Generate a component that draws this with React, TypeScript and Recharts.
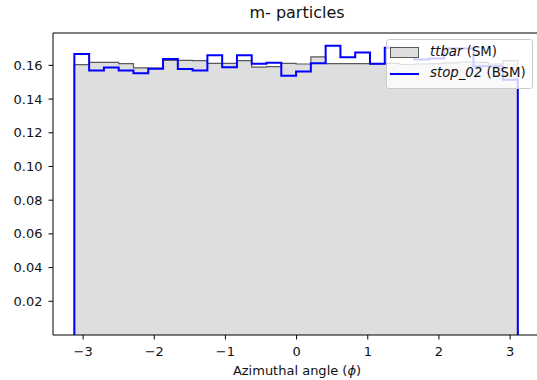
import {
  ComposedChart,
  Area,
  Line,
  XAxis,
  YAxis,
  ReferenceLine,
} from 'recharts';

// phi range of the histogram and the bin heights (30 bins)
const PHI_MIN = -3.123;
const PHI_MAX = 3.108;

const ttbarHeights = [
  0.1604, 0.1618, 0.1618, 0.161, 0.1585, 0.1583, 0.163, 0.163, 0.1628, 0.1612,
  0.1612, 0.1628, 0.159, 0.1592, 0.1612, 0.1608, 0.165, 0.161, 0.161, 0.161,
  0.1608, 0.1612, 0.1605, 0.1608, 0.161, 0.1615, 0.162, 0.1618, 0.1608, 0.1628,
];

const stopHeights = [
  0.1668, 0.1569, 0.1588, 0.1569, 0.1553, 0.158, 0.1637, 0.1578, 0.1569, 0.166,
  0.1589, 0.166, 0.1609, 0.1616, 0.1538, 0.1563, 0.1613, 0.1717, 0.1648, 0.1676,
  0.161, 0.1705, 0.17, 0.1635, 0.164, 0.17, 0.17, 0.1595, 0.1595, 0.1515,
];

const xTicks = [-3, -2, -1, 0, 1, 2, 3];
const yTicks = [0.02, 0.04, 0.06, 0.08, 0.1, 0.12, 0.14, 0.16];

const X_DOMAIN: [number, number] = [-3.423, 3.42];
const Y_DOMAIN: [number, number] = [0, 0.1792];

const FONT = '"DejaVu Sans", sans-serif';

// step data: drop to zero at both ends so the outline closes like plt.hist
function buildRows() {
  const n = ttbarHeights.length;
  const w = (PHI_MAX - PHI_MIN) / n;
  const rows = [{ x: PHI_MIN, sm: 0, bsm: 0 }];
  for (let i = 0; i < n; i++) {
    rows.push({ x: PHI_MIN + i * w, sm: ttbarHeights[i], bsm: stopHeights[i] });
  }
  rows.push({ x: PHI_MAX, sm: ttbarHeights[n - 1], bsm: stopHeights[n - 1] });
  rows.push({ x: PHI_MAX, sm: 0, bsm: 0 });
  return rows;
}

const minus = (v: number) => String(v).replace('-', '\u2212');

export default function App() {
  const rows = buildRows();
  const tickStyle = { fontSize: 13, fill: '#111', fontFamily: FONT };

  return (
    <div
      style={{
        position: 'absolute',
        left: 0,
        top: 0,
        width: 537,
        height: 380,
        overflow: 'hidden',
        background: '#fff',
        fontFamily: FONT,
      }}
    >
      <ComposedChart
        width={545}
        height={380}
        data={rows}
        margin={{ top: 33, right: 5, bottom: 0, left: 0 }}
      >
        <XAxis
          dataKey="x"
          type="number"
          domain={X_DOMAIN}
          ticks={xTicks}
          interval={0}
          allowDataOverflow
          tickFormatter={minus}
          tick={tickStyle}
          tickSize={4.5}
          tickMargin={7}
          height={45}
          axisLine={{ stroke: '#000', strokeWidth: 1 }}
          tickLine={{ stroke: '#000' }}
        />
        <YAxis
          type="number"
          domain={Y_DOMAIN}
          ticks={yTicks}
          interval={0}
          allowDataOverflow
          tickFormatter={(v) => Number(v).toFixed(2)}
          tick={tickStyle}
          tickSize={4.5}
          tickMargin={6}
          width={53}
          axisLine={{ stroke: '#000', strokeWidth: 1 }}
          tickLine={{ stroke: '#000' }}
        />
        <Area
          type="stepAfter"
          dataKey="sm"
          fill="#dedede"
          fillOpacity={1}
          stroke="#5a5a5a"
          strokeWidth={1.2}
          isAnimationActive={false}
        />
        <Line
          type="stepAfter"
          dataKey="bsm"
          stroke="#0000ff"
          strokeWidth={2}
          dot={false}
          isAnimationActive={false}
        />
        <ReferenceLine y={Y_DOMAIN[1]} stroke="#000" strokeWidth={1} />
      </ComposedChart>

      <div
        style={{
          position: 'absolute',
          left: 197,
          width: 200,
          top: 3,
          textAlign: 'center',
          fontSize: 16,
          color: '#111',
        }}
      >
        m- particles
      </div>

      <div
        style={{
          position: 'absolute',
          left: 197,
          width: 200,
          top: 363,
          textAlign: 'center',
          fontSize: 13,
          color: '#111',
        }}
      >
        Azimuthal angle (<i>ϕ</i>)
      </div>

      <div
        style={{
          position: 'absolute',
          left: 386,
          top: 39,
          width: 145,
          height: 48,
          border: '1px solid #cccccc',
          borderRadius: 3,
          background: 'rgba(255,255,255,0.8)',
          fontSize: 13.3,
          color: '#111',
        }}
      >
        <div style={{ position: 'absolute', left: 3, top: 7, width: 27, height: 9, background: '#dedede', border: '1px solid #5a5a5a' }} />
        <div style={{ position: 'absolute', left: 43, top: 4, whiteSpace: 'nowrap' }}>
          <i>ttbar</i> (SM)
        </div>
        <div style={{ position: 'absolute', left: 3, top: 33, width: 29, height: 2, background: '#0000ff' }} />
        <div style={{ position: 'absolute', left: 43, top: 25, whiteSpace: 'nowrap' }}>
          <i>stop_02</i> (BSM)
        </div>
      </div>
    </div>
  );
}
